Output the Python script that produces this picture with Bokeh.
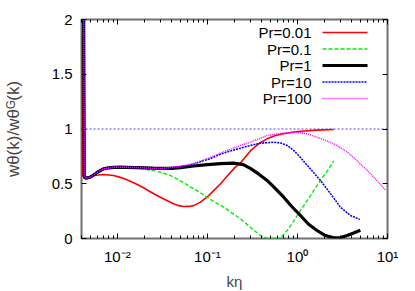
import math
from bokeh.plotting import figure
from bokeh.models import (LogAxis, LinearAxis, FixedTicker, CustomJSTickFormatter,
                          Label, Span)
from bokeh.embed import file_html
from bokeh.resources import INLINE

# ---------------- data ----------------
k_red = [0.00402, 0.00412, 0.0046, 0.0055, 0.0070, 0.0091, 0.0110, 0.0128, 0.0160,
         0.0195, 0.024, 0.030, 0.036, 0.042, 0.048, 0.0546, 0.062, 0.0704, 0.083,
         0.099, 0.118, 0.14, 0.17, 0.20, 0.233, 0.30, 0.37, 0.46, 0.57, 0.70, 0.87,
         1.08, 1.65, 2.53]
w_red = [1.85, 0.57, 0.56, 0.575, 0.584, 0.575, 0.556, 0.536, 0.50,
         0.463, 0.42, 0.377, 0.345, 0.317, 0.30, 0.292, 0.293, 0.30, 0.33,
         0.377, 0.44, 0.50, 0.58, 0.645, 0.69, 0.80, 0.865, 0.91, 0.94, 0.956, 0.97,
         0.98, 0.99, 0.995]

k_green = [0.0042, 0.0043, 0.0045, 0.0050, 0.0055, 0.0060, 0.0070, 0.0080, 0.0091,
           0.0110, 0.0128, 0.016, 0.0195, 0.025, 0.030, 0.038, 0.046, 0.057, 0.0704,
           0.083, 0.099, 0.122, 0.152, 0.19, 0.233, 0.30, 0.388, 0.46, 0.55, 0.647,
           0.77, 0.92, 1.08, 1.39, 1.8, 2.2, 2.53]
w_green = [2.6, 0.56, 0.55, 0.56, 0.58, 0.605, 0.636, 0.645, 0.65,
           0.651, 0.65, 0.645, 0.636, 0.62, 0.605, 0.578, 0.545, 0.50, 0.454,
           0.42, 0.377, 0.33, 0.286, 0.23, 0.18, 0.103, 0.027, 0.003, 0.0, 0.005,
           0.073, 0.165, 0.256, 0.39, 0.53, 0.63, 0.71]

k_black = [0.0042, 0.0043, 0.0045, 0.0050, 0.0055, 0.0060, 0.0070, 0.0080, 0.0091,
           0.0110, 0.0128, 0.016, 0.020, 0.025, 0.030, 0.040, 0.050, 0.0704, 0.10,
           0.14, 0.196, 0.25, 0.30, 0.37, 0.46, 0.57, 0.704, 0.87, 1.08, 1.33, 1.65,
           2.0, 2.53, 3.0, 3.57, 4.2, 5.0]
w_black = [2.6, 0.56, 0.55, 0.56, 0.58, 0.605, 0.636, 0.645, 0.65,
           0.651, 0.65, 0.648, 0.645, 0.642, 0.64, 0.64, 0.648, 0.662, 0.675,
           0.684, 0.688, 0.675, 0.64, 0.59, 0.53, 0.455, 0.377, 0.29, 0.21, 0.13, 0.073,
           0.03, 0.006, 0.008, 0.027, 0.05, 0.075]

k_blue = [0.0042, 0.0043, 0.0045, 0.0050, 0.0055, 0.0060, 0.0070, 0.0080, 0.0091,
          0.0110, 0.0128, 0.016, 0.020, 0.025, 0.030, 0.038, 0.046, 0.058, 0.0704,
          0.083, 0.108, 0.14, 0.18, 0.233, 0.30, 0.388, 0.546, 0.65, 0.77, 0.92,
          1.08, 1.39, 1.8, 2.33, 3.0, 3.88, 4.93]
w_blue = [2.6, 0.56, 0.55, 0.56, 0.58, 0.605, 0.636, 0.645, 0.65,
          0.651, 0.65, 0.648, 0.645, 0.642, 0.64, 0.645, 0.652, 0.665, 0.68,
          0.70, 0.73, 0.77, 0.80, 0.825, 0.85, 0.87, 0.88, 0.872, 0.85, 0.80,
          0.74, 0.636, 0.53, 0.41, 0.286, 0.21, 0.174]

k_mag = [0.0042, 0.0043, 0.0045, 0.0050, 0.0055, 0.0060, 0.0070, 0.0080, 0.0091,
         0.0110, 0.0128, 0.016, 0.020, 0.025, 0.030, 0.038, 0.046, 0.058, 0.0704,
         0.083, 0.108, 0.14, 0.18, 0.233, 0.30, 0.388, 0.46, 0.65, 1.0, 1.3, 1.65,
         2.0, 2.53, 3.0, 3.57, 4.2, 5.0, 6.0, 7.05, 8.2, 9.5]
w_mag = [2.6, 0.56, 0.55, 0.56, 0.58, 0.605, 0.636, 0.645, 0.65,
         0.651, 0.65, 0.648, 0.645, 0.642, 0.64, 0.648, 0.655, 0.668, 0.685,
         0.705, 0.74, 0.78, 0.815, 0.85, 0.88, 0.915, 0.94, 0.96, 0.97, 0.955, 0.925,
         0.90, 0.865, 0.83, 0.79, 0.74, 0.68, 0.62, 0.56, 0.50, 0.445]

labels = ["Pr=0.01", "Pr=0.1", "Pr=1", "Pr=10", "Pr=100"]
colors = ["#ff0000", "#00ee00", "#000000", "#0000ff", "#ff00ff"]
widths = [1.6, 1.4, 3.2, 1.6, 1.5]
dashes = ["solid", "4 2", "solid", "2 1", "1 1"]

x_major = [0.01, 0.1, 1, 10]
x_minor = [m * d for d in (0.001, 0.01, 0.1, 1) for m in range(2, 10) if 0.004 <= m * d <= 10]
y_major = [0, 0.5, 1, 1.5, 2]
ref_level = 1.0

x_title = "k\u03b7"
y_title = "w\u03b8(k)/w\u03b8\u1d33(k)"

XMIN, XMAX, YMIN, YMAX = 0.004, 10.0, 0.0, 2.0
FW, FH = 306, 219
TOTAL_W, TOTAL_H = 415, 291
FONT = "Liberation Sans"

p = figure(x_axis_type="log", x_range=(XMIN, XMAX), y_range=(YMIN, YMAX),
           frame_width=FW, frame_height=FH,
           min_border_left=81, min_border_right=TOTAL_W - 81 - FW,
           min_border_top=19, min_border_bottom=TOTAL_H - 19 - FH,
           output_backend="svg", toolbar_location=None)
p.grid.visible = False
p.background_fill_color = "white"
p.border_fill_color = "white"
p.outline_line_color = "#707070"
p.outline_line_width = 2

xt = FixedTicker(ticks=x_major, minor_ticks=x_minor)
yt = FixedTicker(ticks=y_major, minor_ticks=[])
sup = CustomJSTickFormatter(code="""
const m = {'-':'\u207b','0':'\u2070','1':'\u00b9','2':'\u00b2','3':'\u00b3'};
const e = Math.round(Math.log10(tick));
return '10' + String(e).split('').map(c => m[c]).join('');
""")
yfmt = CustomJSTickFormatter(code="return String(tick);")

def style(ax, labels_on):
    ax.axis_line_color = None
    ax.major_tick_in = 5
    ax.major_tick_out = 0
    ax.minor_tick_in = 3
    ax.minor_tick_out = 0
    ax.major_tick_line_color = "black"
    ax.minor_tick_line_color = "black"
    ax.major_label_text_font = FONT
    ax.major_label_text_color = "black"
    if labels_on:
        ax.major_label_text_font_size = "15px"
    else:
        ax.major_label_text_font_size = "1px"
        ax.major_label_text_alpha = 0
        ax.major_label_standoff = 0

bx = p.xaxis[0]
bx.ticker = xt
bx.formatter = sup
style(bx, True)
bx.major_label_standoff = 9
bx.axis_label = x_title
bx.axis_label_text_font = FONT
bx.axis_label_text_font_size = "15px"
bx.axis_label_text_font_style = "normal"
bx.axis_label_standoff = 5

ly = p.yaxis[0]
ly.ticker = yt
ly.formatter = yfmt
style(ly, True)
ly.major_label_standoff = 9
ly.axis_label = y_title
ly.axis_label_text_font = FONT
ly.axis_label_text_font_size = "17px"
ly.axis_label_text_font_style = "normal"
ly.axis_label_standoff = 26

top = LogAxis(ticker=xt)
style(top, False)
p.add_layout(top, "above")
right = LinearAxis(ticker=yt)
style(right, False)
p.add_layout(right, "right")

span = Span(location=ref_level, dimension="width", line_color="#4444ff",
            line_width=1, line_dash="2 2", level="underlay")
p.add_layout(span)

series = [(k_red, w_red), (k_green, w_green), (k_black, w_black), (k_blue, w_blue), (k_mag, w_mag)]
for (kx, wy), c, lw, d in zip(series, colors, widths, dashes):
    p.line(kx, wy, line_color=c, line_width=lw, line_dash=d)

# ---- legend (gnuplot style: right-aligned text, key sample on its right) ----
dec_px = FW / math.log10(XMAX / XMIN)
def fx(dx):   # pixels left of frame right edge -> data x
    return XMAX * 10 ** (-dx / dec_px)
def fy(dy):   # pixels below frame top -> data y
    return YMAX - dy * (YMAX - YMIN) / FH

for i, (lab, c, lw, d) in enumerate(zip(labels, colors, widths, dashes)):
    dy = 13 + 16.5 * i
    p.add_layout(Label(x=XMAX, y=YMAX, x_offset=-76, y_offset=-dy, text=lab,
                       text_font=FONT, text_font_size="15px", text_align="right",
                       text_baseline="middle", text_color="black"))
    p.line([fx(65), fx(20)], [fy(dy), fy(dy)], line_color=c, line_width=lw, line_dash=d)

open("out.html", "w").write(file_html(p, INLINE))
